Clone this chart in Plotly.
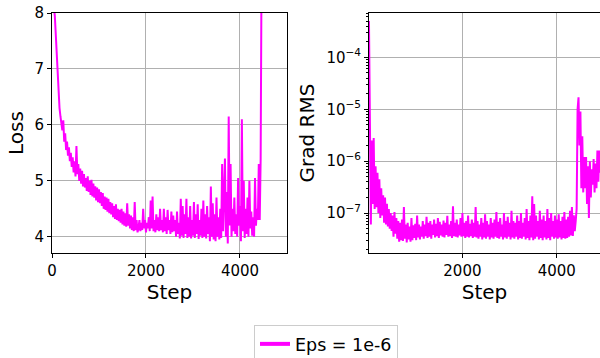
import plotly.graph_objects as go

# Loss, logged every 20 steps starting at step 0
loss = [8.6, 8.3, 8.1, 7.95, 7.6, 7.2, 6.9, 6.6, 6.3, 6.15, 6.0, 5.9,
        6.08, 5.7, 5.85, 5.55, 5.7, 5.45, 5.6, 5.35, 5.5, 5.25,
        5.42, 5.15, 5.35, 5.08, 5.62, 5.12, 5.3, 5.0, 5.22, 4.95,
        5.18, 4.9, 5.12, 4.88, 5.05, 4.82, 5.08, 4.8, 5.0, 4.75,
        5.02, 4.72, 4.95, 4.7, 4.9, 4.65, 4.88, 4.62, 4.85, 4.6,
        4.8, 4.55, 4.78, 4.5, 4.72, 4.48, 4.7, 4.45, 4.68, 4.42,
        4.62, 4.4, 4.6, 4.35, 4.55, 4.32, 4.58, 4.3, 4.5, 4.28,
        4.48, 4.25, 4.5, 4.22, 4.45, 4.2, 4.42, 4.18, 4.6, 4.2,
        4.4, 4.15, 4.38, 4.12, 4.35, 4.1, 4.62, 4.12, 4.3, 4.08,
        4.15, 4.3, 4.1, 4.25, 4.12, 4.5, 4.15, 4.3,
        4.08, 4.25, 4.15, 4.35, 4.1, 4.65, 4.15, 4.72, 4.1, 4.3,
        4.08, 4.4, 4.12, 4.35, 4.1, 4.5, 4.12, 4.3, 4.08, 4.5,
        4.1, 4.35, 4.05, 4.48, 4.12, 4.3, 4.05, 4.45, 4.08, 4.38,
        4.1, 4.3, 4.0, 4.45, 4.05, 4.25, 3.97, 4.68, 4.02, 4.55,
        3.98, 4.4, 4.05, 4.68, 3.98, 4.35, 4.0, 4.55, 3.97, 4.3,
        4.02, 4.62, 3.98, 4.4, 4.05, 4.58, 3.96, 4.3, 4.02, 4.5,
        3.98, 4.65, 4.0, 4.4, 3.97, 4.55, 4.05, 4.35, 3.92, 4.9,
        4.0, 4.6, 3.95, 4.4, 3.92, 4.7, 4.0, 4.35, 3.95, 4.5,
        3.98, 5.3, 4.1, 4.6, 5.4, 4.0, 4.8, 3.88, 6.15, 4.2,
        5.3, 4.0, 4.5, 4.1, 4.7, 4.05, 4.4, 4.0, 5.05, 4.2,
        4.55, 3.92, 6.1, 4.1, 5.0, 3.98, 4.5, 4.05, 4.7, 4.0,
        5.0, 4.15, 4.45, 4.02, 4.35, 4.0, 5.05, 4.2, 4.5, 4.3,
        5.3, 4.3, 5.4, 9.0]
loss_steps = [20 * i for i in range(len(loss))]

# Grad RMS, logged every 20 steps starting at step 20
grad = [5e-4, 3.5e-6, 6e-8, 2.5e-6, 1.5e-7, 2.8e-6, 1.2e-7, 8e-7, 1.3e-7, 6e-7,
        1.0e-7, 4.5e-7, 8e-8, 3e-7, 9e-8, 2.2e-7, 6.5e-8, 2e-7, 6e-8, 1.5e-7,
        5.5e-8, 1.2e-7, 5e-8, 1e-7, 4.5e-8, 9e-8, 3.5e-8, 1.05e-7, 4e-8, 8e-8,
        3.2e-8, 7e-8, 2.8e-8, 6.5e-8, 3e-8, 7.5e-8, 2.9e-8, 1.3e-7, 3.2e-8, 6e-8,
        2.7e-8, 6.5e-8, 3.1e-8, 5.5e-8, 2.8e-8, 8e-8, 3e-8, 5.8e-8, 3.3e-8, 6.2e-8,
        3e-8, 9e-8, 3.4e-8, 6e-8, 3.1e-8, 5.5e-8, 3.5e-8, 7e-8, 3.2e-8, 6e-8,
        3.6e-8, 8.5e-8, 3.3e-8, 6.5e-8, 3.5e-8, 7e-8, 3.2e-8, 6e-8, 3.8e-8, 7.5e-8,
        3.4e-8, 6.2e-8, 3.6e-8, 8e-8, 3.3e-8, 6.8e-8, 3.7e-8, 6e-8, 3.5e-8, 7.2e-8,
        3.4e-8, 6.5e-8, 3.8e-8, 8.8e-8, 3.5e-8, 6e-8, 3.6e-8, 7e-8, 3.3e-8, 1.35e-7,
        3.6e-8, 6.5e-8, 3.5e-8, 7.5e-8, 3.4e-8, 6e-8, 3.7e-8, 8e-8, 3.5e-8, 1.0e-7,
        3.6e-8, 6.5e-8, 3.3e-8, 7e-8, 3.5e-8, 9e-8, 3.4e-8, 6.2e-8, 3.6e-8, 7.5e-8,
        3.3e-8, 6.5e-8, 3.5e-8, 1.3e-7, 3.4e-8, 7e-8, 3.2e-8, 6e-8, 3.5e-8, 8e-8,
        3.1e-8, 6.5e-8, 3.4e-8, 9.5e-8, 3.2e-8, 7e-8, 3.5e-8, 6e-8, 3.1e-8, 8e-8,
        3.4e-8, 6.5e-8, 3.2e-8, 7.5e-8, 3.5e-8, 1.05e-7, 3.3e-8, 6.8e-8, 3.2e-8, 8e-8,
        3.5e-8, 6e-8, 3.1e-8, 1.0e-7, 3.4e-8, 7e-8, 3.2e-8, 8.5e-8, 3.5e-8, 6.5e-8,
        3.1e-8, 1.1e-7, 3.4e-8, 7e-8, 3.2e-8, 6.5e-8, 3.5e-8, 9e-8, 3.1e-8, 7e-8,
        3.3e-8, 1.0e-7, 3.2e-8, 6.5e-8, 3.5e-8, 8e-8, 3.1e-8, 1.2e-7, 3.3e-8, 7e-8,
        3.0e-8, 9e-8, 3.4e-8, 2.1e-7, 3.0e-8, 1.5e-7, 3.2e-8, 9e-8, 3.5e-8, 7e-8,
        3.1e-8, 1.1e-7, 3.3e-8, 7.5e-8, 3.0e-8, 9e-8, 3.4e-8, 7e-8, 3.1e-8, 1.2e-7,
        3.3e-8, 8e-8, 3.0e-8, 1.0e-7, 3.5e-8, 7e-8, 3.2e-8, 9e-8, 3.4e-8, 7.5e-8,
        3.2e-8, 9.5e-8, 3.4e-8, 7e-8, 3.1e-8, 8.5e-8, 3.3e-8, 1.05e-7, 3.2e-8, 7.5e-8,
        3.3e-8, 8.5e-8, 3.5e-8, 1.1e-7, 3.7e-8, 1.3e-7, 3.6e-8, 9e-8, 4.5e-8, 7e-8,
        1.2e-7, 1.0e-5, 1.7e-5, 2e-6, 9e-6, 3e-7, 3e-6, 2.5e-7, 1.2e-6, 3e-7,
        1.2e-6, 1.5e-7, 8e-7, 8e-8, 1e-6, 2e-7, 7e-7, 3.5e-7, 1.1e-6, 2.5e-7,
        9e-7, 3e-7, 1.6e-6, 4e-7, 1.6e-6, 6e-7, 1.5e-6, 2e-7, 1.2e-6, 4e-7,
        1.5e-6, 3e-7]
grad_steps = [20 * (i + 1) for i in range(len(grad))]

series_name = "Eps = 1e-6"
color = "#ff00ff"

fig = go.Figure()
fig.add_trace(go.Scatter(x=loss_steps, y=loss, mode="lines",
                         line=dict(color=color, width=2), showlegend=False,
                         xaxis="x", yaxis="y"))
fig.add_trace(go.Scatter(x=grad_steps, y=grad, mode="lines",
                         line=dict(color=color, width=2), showlegend=False,
                         xaxis="x2", yaxis="y2"))
fig.add_trace(go.Scatter(x=[None], y=[None], mode="lines", name=series_name,
                         line=dict(color=color, width=4), showlegend=True))

font = "DejaVu Sans, sans-serif"
axis_common = dict(
    showline=True, linecolor="black", linewidth=1,
    ticks="outside", ticklen=4, tickcolor="black",
    showgrid=True, gridcolor="#b0b0b0", gridwidth=0.8,
    zeroline=False,
    tickfont=dict(family=font, size=15, color="black"),
)

exps = [-7, -6, -5, -4]
minor_vals = [m * 10.0 ** e for e in range(-8, -3) for m in range(2, 10)]

fig.update_layout(
    width=600, height=358,
    margin=dict(l=52, r=0, t=13, b=105, autoexpand=False),
    paper_bgcolor="white", plot_bgcolor="white",
    font=dict(family=font, color="black"),
    xaxis=dict(domain=[0, 0.4288], range=[0, 5000], tickvals=[0, 2000, 4000],
               mirror=True, anchor="y",
               title=dict(text="Step", font=dict(size=20), standoff=3),
               **axis_common),
    yaxis=dict(range=[3.71, 8], tickvals=[4, 5, 6, 7, 8], mirror=True, anchor="x",
               title=dict(text="Loss", font=dict(size=20), standoff=5),
               **axis_common),
    xaxis2=dict(domain=[0.5785, 1.0], range=[21, 4915], tickvals=[0, 2000, 4000],
                mirror=True, anchor="y2",
                title=dict(text="Step", font=dict(size=20), standoff=3),
                **axis_common),
    yaxis2=dict(type="log", range=[-7.77, -3.145], anchor="x2",
                tickvals=[10.0 ** e for e in exps],
                ticktext=[f"10<sup>\u2212{-e}</sup>" for e in exps],
                minor=dict(ticks="outside", ticklen=2, tickcolor="black",
                           tickvals=minor_vals, showgrid=False),
                title=dict(text="Grad RMS", font=dict(size=20), standoff=6),
                **axis_common),
    legend=dict(x=0.5, y=-0.30, xanchor="center", yanchor="top",
                bordercolor="#cccccc", borderwidth=1,
                font=dict(family=font, size=17.5, color="black"),
                bgcolor="white"),
)

fig.write_html("out.html")
